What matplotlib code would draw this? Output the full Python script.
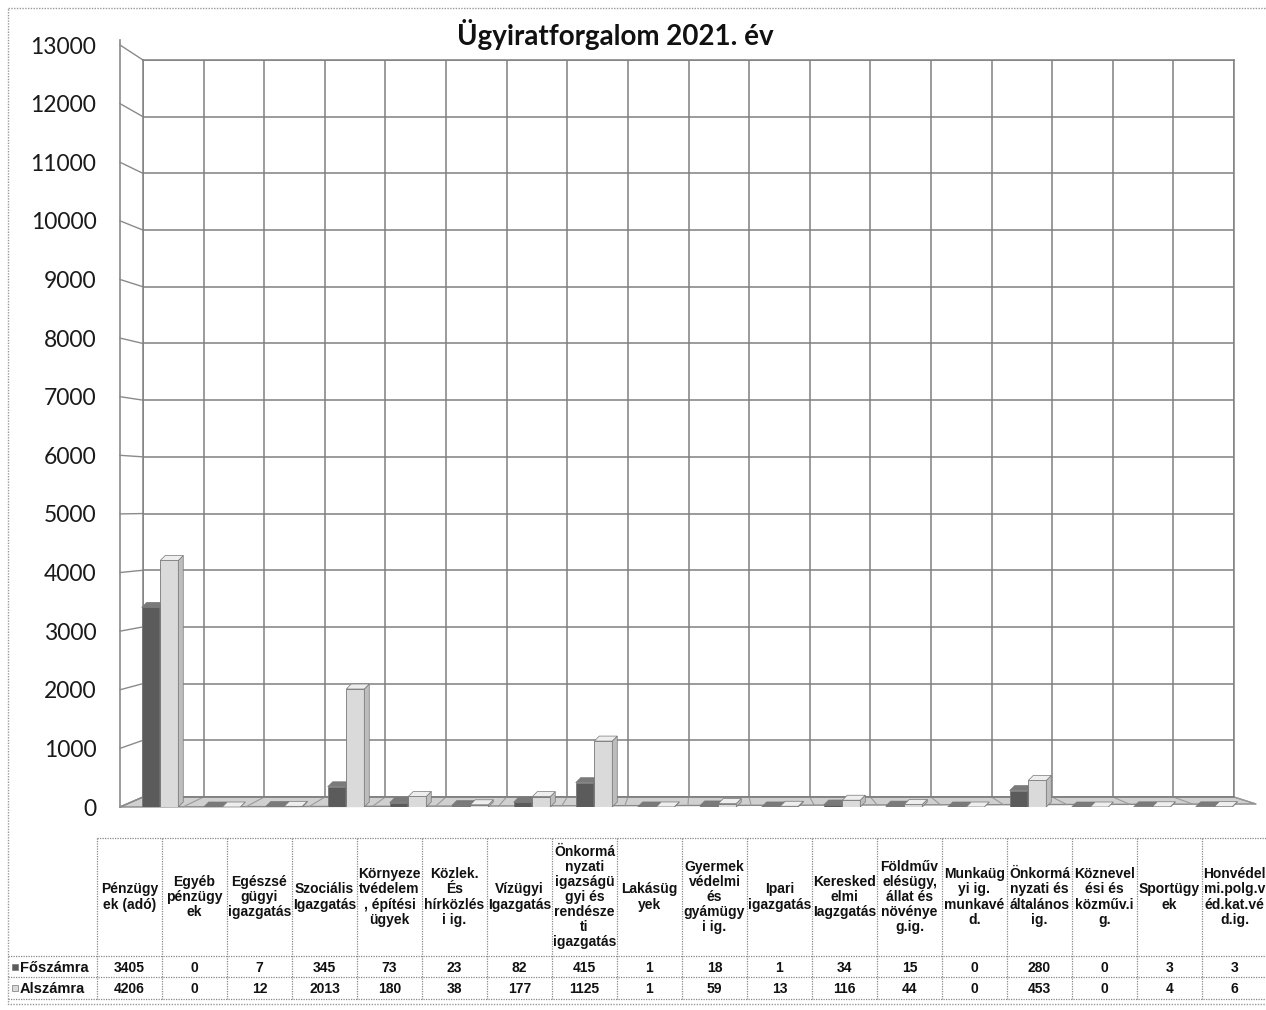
import numpy as np
import matplotlib
matplotlib.use("Agg")
from matplotlib import pyplot as plt
from matplotlib.patches import Polygon, Rectangle

categories = ["Pénzügy\nek (adó)", "Egyéb\npénzügy\nek", "Egészsé\ngügyi\nigazgatás",
              "Szociális\nIgazgatás", "Környeze\ntvédelem\n, építési\nügyek",
              "Közlek.\nÉs\nhírközlés\ni ig.", "Vízügyi\nIgazgatás",
              "Önkormá\nnyzati\nigazságü\ngyi és\nrendésze\nti\nigazgatás",
              "Lakásüg\nyek", "Gyermek\nvédelmi\nés\ngyámügy\ni ig.", "Ipari\nigazgatás",
              "Keresked\nelmi\nIagzgatás", "Földműv\nelésügy,\nállat és\nnövénye\ng.ig.",
              "Munkaüg\nyi ig.\nmunkavé\nd.", "Önkormá\nnyzati és\náltalános\nig.",
              "Köznevel\nési és\nközműv.i\ng.", "Sportügy\nek",
              "Honvédel\nmi.polg.v\néd.kat.vé\nd.ig."]
foszamra = [3405, 0, 7, 345, 73, 23, 82, 415, 1, 18, 1, 34, 15, 0, 280, 0, 3, 3]
alszamra = [4206, 0, 12, 2013, 180, 38, 177, 1125, 1, 59, 13, 116, 44, 0, 453, 0, 4, 6]
series_names = ["Főszámra", "Alszámra"]
yticks = list(range(0, 13001, 1000))
title = "Ügyiratforgalom 2021. év"

W, H = 1266, 1010
fig = plt.figure(figsize=(W / 100, H / 100), dpi=100)

def px_axes(left, top, right, bottom, **kw):
    return fig.add_axes([left / W, 1 - bottom / H, (right - left) / W, (bottom - top) / H], **kw)

n = len(categories)
ymax = 13000

# background layer in pixel coords: frame, floor, connectors, table
bg = px_axes(0, 0, W, H, zorder=0)
bg.set_xlim(0, W)
bg.set_ylim(H, 0)
bg.axis("off")

# back wall geometry (px)
wl, wr, wt, wb = 143, 1234, 60, 797
# front axis geometry (px)
fl, fr, ft, fb = 120, 1250, 45, 807

# outer dotted frame
bg.add_patch(Rectangle((8, 8), W - 6, H - 14, fill=False, ec="#999999", lw=1, ls=(0, (1, 1))))

# floor
floor = Polygon([(fl, fb), (wl, wb), (wr, wb), (1256, fb - 3)], closed=True,
                fc="#d0d0d0", ec="#888888", lw=1)
bg.add_patch(floor)
slot_back = (wr - wl) / n
for i in range(n + 1):
    xb = wl + slot_back * i
    xf = fl + (1256 - fl) * i / n
    bg.plot([xb, xf], [wb, fb - 3 * i / n], color="#9a9a9a", lw=0.8)

# connectors between front axis and back wall
for v in yticks:
    yf = fb - (fb - ft) * v / ymax
    yb = wb - (wb - wt) * v / ymax
    bg.plot([fl, wl], [yf, yb], color="#8a8a8a", lw=1)
bg.plot([fl, fl], [ft - 5, fb], color="#8a8a8a", lw=1.2)

# back wall with grid
wall = px_axes(wl, wt, wr, wb, zorder=1)
wall.set_facecolor("none")
wall.set_xlim(0, n)
wall.set_ylim(0, ymax)
wall.set_xticks(range(n + 1))
wall.set_yticks(yticks)
wall.grid(True, color="#808080", lw=1.1)
wall.tick_params(length=0, labelleft=False, labelbottom=False)
for s in wall.spines.values():
    s.set_color("#808080")
    s.set_linewidth(1.1)

# front axes with bars and y labels
c0, slot = 160, 62.0
front = px_axes(fl, ft, fr, fb, zorder=2)
front.set_facecolor("none")
front.set_xlim((fl - c0) / slot, (fr - c0) / slot)
front.set_ylim(0, ymax)
front.set_yticks(yticks)
front.set_yticklabels([str(v) for v in yticks], fontsize=16.5, family=["Lato", "DejaVu Sans"])
front.tick_params(axis="y", length=0, pad=17, colors="#1a1a1a")
front.set_xticks([])
for s in front.spines.values():
    s.set_visible(False)

bw = 0.29
dx, dy = 0.08, 85
styles = [("#5b5b5b", "#3f3f3f", "#7a7a7a"), ("#dadada", "#bdbdbd", "#eeeeee")]
x = np.arange(n)
for k, vals in enumerate([foszamra, alszamra]):
    front_c, side_c, top_c = styles[k]
    xs = x - bw / 2 - 0.005 + k * (bw + 0.01)
    front.bar(xs, vals, width=bw, color=front_c, edgecolor="#777777", lw=0.6, zorder=3)
    for xi, h in zip(xs, vals):
        x0, x1 = xi - bw / 2, xi + bw / 2
        front.add_patch(Polygon([(x1, 0), (x1 + dx, dy), (x1 + dx, h + dy), (x1, h)],
                                closed=True, fc=side_c, ec="#777777", lw=0.5, zorder=3))
        front.add_patch(Polygon([(x0, h), (x1, h), (x1 + dx, h + dy), (x0 + dx, h + dy)],
                                closed=True, fc=top_c, ec="#777777", lw=0.5, zorder=3))

# title
fig.text(615 / W, 1 - 35 / H, title, ha="center", va="center", fontsize=20,
         fontweight="bold", family=["Lato", "DejaVu Sans"], color="#111111")

# data table below the chart
tx0, cw = 97, 65
ty0, ty1, ty2, ty3 = 838, 956, 977, 999
grid_kw = dict(color="#888888", lw=0.9, ls=(0, (1, 1)))
bg.plot([tx0, W], [ty0, ty0], **grid_kw)
for yy in [ty1, ty2, ty3]:
    bg.plot([8, W], [yy, yy], **grid_kw)
for i in range(n + 1):
    xx = tx0 + cw * i
    bg.plot([xx, xx], [ty0, ty3], **grid_kw)

tfam = ["Liberation Sans", "DejaVu Sans"]
for i, lab in enumerate(categories):
    cx = tx0 + cw * (i + 0.5)
    bg.text(cx, (ty0 + ty1) / 2, lab, ha="center", va="center", fontsize=10,
            fontweight="bold", family=tfam, linespacing=1.1, color="#111111")
    bg.text(cx, (ty1 + ty2) / 2 + 1, str(foszamra[i]), ha="center", va="center",
            fontsize=10, fontweight="bold", family=tfam, color="#111111")
    bg.text(cx, (ty2 + ty3) / 2 + 1, str(alszamra[i]), ha="center", va="center",
            fontsize=10, fontweight="bold", family=tfam, color="#111111")

for k, (name, yy) in enumerate(zip(series_names, [(ty1 + ty2) / 2, (ty2 + ty3) / 2])):
    bg.add_patch(Rectangle((12, yy - 3), 6, 6, fc=styles[k][0], ec="#777777", lw=0.5))
    bg.text(20, yy + 1, name, ha="left", va="center", fontsize=10.5,
            fontweight="bold", family=tfam, color="#111111")

fig.savefig("out.png", dpi=100, facecolor="white")
